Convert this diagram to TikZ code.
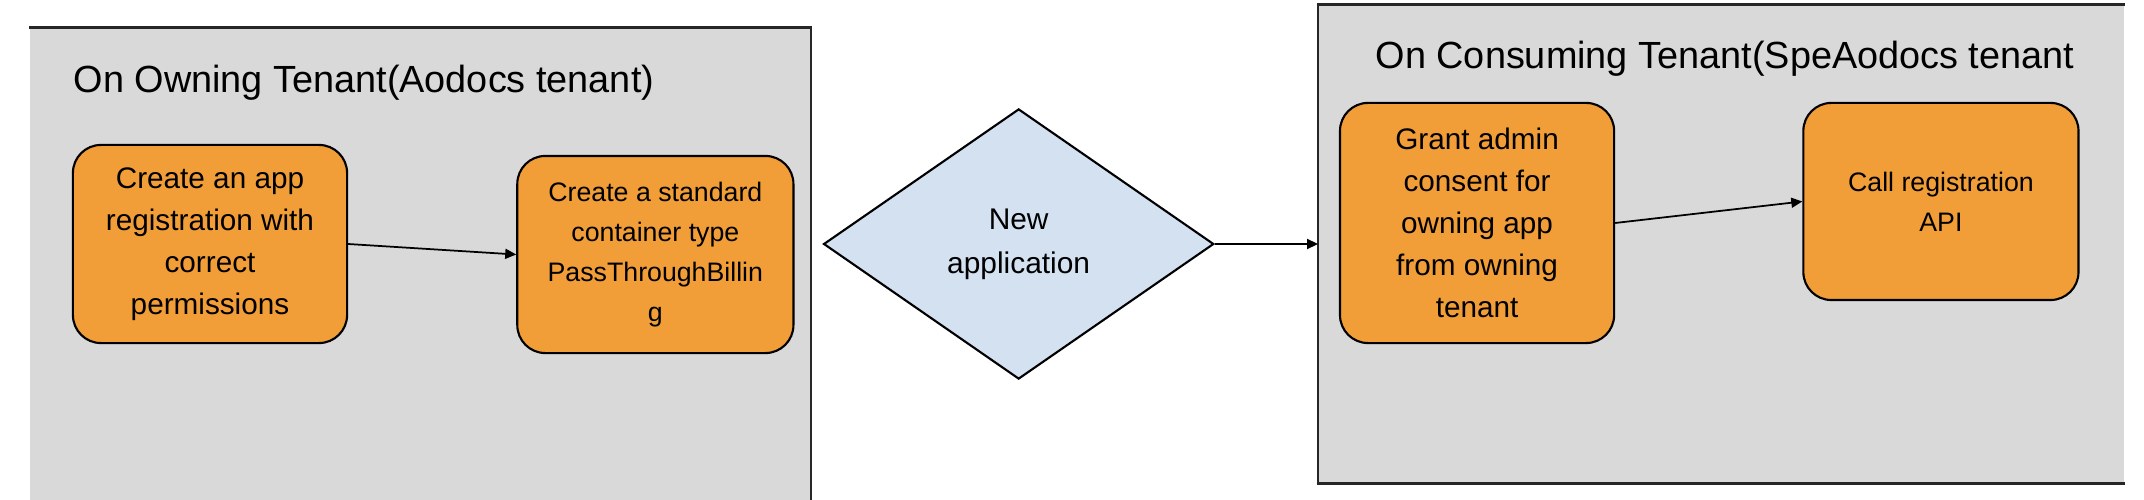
\documentclass[tikz,border=0pt]{standalone}
\usepackage{fontspec}
\setmainfont{Liberation Sans}
\usetikzlibrary{shapes.geometric, positioning, arrows.meta}
\definecolor{tenantgray}{HTML}{D9D9D9}
\definecolor{boxorange}{HTML}{F19E38}
\definecolor{appblue}{HTML}{D3E1F1}
\tikzset{
  tenant/.style={rectangle, fill=tenantgray, inner sep=0pt},
  tenantline/.style={draw=black!85, line width=0.8pt},
  tenanttitle/.style={anchor=base west, inner sep=0pt, font=\fontsize{10.76}{13}\selectfont},
  process/.style={rectangle, rounded corners=0.28cm, minimum width=2.74cm, minimum height=1.98cm, text centered, align=center, draw=black, line width=0.6pt, fill=boxorange, inner sep=0pt, font=\fontsize{8.45}{11.95}\selectfont},
  smalltext/.style={font=\fontsize{7.6}{11.4}\selectfont},
  decision/.style={diamond, minimum width=3.9cm, minimum height=2.7cm, inner sep=0pt, align=center, draw=black, line width=0.6pt, fill=appblue, font=\fontsize{8.5}{12.5}\selectfont},
  arrow/.style={line width=0.5pt, -{Triangle[length=0.11cm, width=0.1cm]}}
}
\begin{document}
\begin{tikzpicture}[x=0.01cm, y=-0.01cm]
    \useasboundingbox (0,0) rectangle (2144,500);

    % --- Tenants ---
    \node (owning) [tenant, minimum width=7.8cm, minimum height=4.72cm] at (420,264) {};
    \node (consuming) [tenant, minimum width=8.05cm, minimum height=4.78cm] at (1721.5,244) {};
    \draw [tenantline] (owning.north west) -- (owning.north east) -- (owning.south east);
    \draw [tenantline] (consuming.north east) -- (consuming.north west) -- (consuming.south west) -- (consuming.south east);
    \node (owningtitle) [tenanttitle] at (73,92) {On Owning Tenant(Aodocs tenant)};
    \node (consumingtitle) [tenanttitle] at (1375,68) {On Consuming Tenant(SpeAodocs tenant};

    % --- Nodes ---
    \node (appreg) [process] at (210,244) {Create an app\\ registration with\\ correct\\ permissions};
    \node (container) [process, smalltext, minimum width=2.76cm, minimum height=1.97cm, right=1.68cm of appreg, yshift=-0.105cm] {Create a standard\\ container type\\ PassThroughBillin\\ g};
    \node (newapp) [decision, right=0.28cm of container, yshift=0.105cm] {New\\ application};
    \node (consent) [process, minimum height=2.4cm, right=1.24cm of newapp, yshift=0.21cm] {Grant admin\\ consent for\\ owning app\\ from owning\\ tenant};
    \node (callapi) [process, smalltext, minimum width=2.75cm, minimum height=1.97cm, right=1.87cm of consent, yshift=0.215cm] {Call registration\\ API};

    % --- Connections ---
    \draw [arrow] (appreg.east) -- (container.west);
    \draw [arrow] (newapp.east) -- (newapp.east -| consuming.west);
    \draw [arrow] (consent.east) -- (callapi.west);

\end{tikzpicture}
\end{document}
